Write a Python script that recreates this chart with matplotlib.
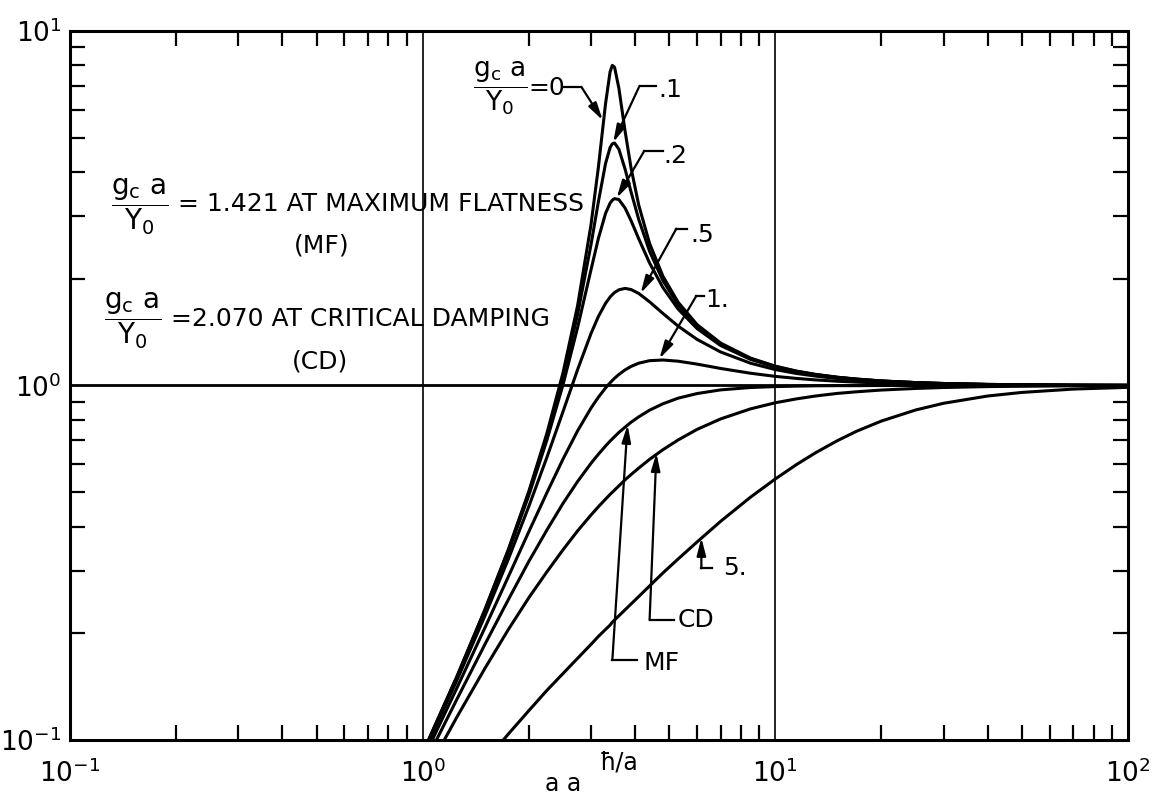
import matplotlib.pyplot as plt

# frequency ratio read along the x axis
x = [1.0, 1.25, 1.5, 1.75, 2.0, 2.25, 2.5, 2.75, 3.0, 3.15, 3.3, 3.4, 3.45, 3.5, 3.6,
     3.75, 3.9, 4.1, 4.4, 4.8, 5.3, 6, 7, 8.5, 10, 11.5, 13, 15, 17, 20, 25, 30, 40, 50, 70, 100]

# response curves, one per damping value gc*a/Y0
g_0 = [0.092, 0.151, 0.233, 0.345, 0.503, 0.733, 1.086, 1.681, 2.832, 4.131, 6.234, 7.678, 8.00, 7.909, 6.900,
       5.212, 4.099, 3.223, 2.516, 2.034, 1.718, 1.485, 1.317, 1.195,
       1.134, 1.098, 1.075, 1.055, 1.043, 1.030, 1.019, 1.013, 1.007, 1.005, 1.002, 1.001]
g_01 = [0.0915, 0.1505, 0.2317, 0.343, 0.498, 0.720, 1.054, 1.586, 2.490, 3.301, 4.228, 4.692, 4.808, 4.831, 4.643,
        4.075, 3.511, 2.938, 2.391, 1.976, 1.689, 1.471, 1.309, 1.191,
        1.131, 1.096, 1.074, 1.055, 1.042, 1.030, 1.019, 1.013, 1.007, 1.005, 1.002, 1.001]
g_02 = [0.0913, 0.1499, 0.2302, 0.339, 0.490, 0.701, 1.005, 1.457, 2.117, 2.601, 3.057, 3.270, 3.333, 3.366, 3.346,
        3.166, 2.915, 2.591, 2.216, 1.889, 1.643, 1.447, 1.296, 1.185,
        1.127, 1.094, 1.072, 1.053, 1.041, 1.029, 1.019, 1.013, 1.007, 1.005, 1.002, 1.001]
g_05 = [0.0904, 0.1472, 0.2235, 0.324, 0.456, 0.627, 0.844, 1.109, 1.400, 1.566, 1.705, 1.776, 1.805, 1.829, 1.862,
        1.879, 1.865, 1.818, 1.722, 1.597, 1.471, 1.349, 1.243, 1.156,
        1.109, 1.081, 1.063, 1.046, 1.036, 1.026, 1.016, 1.011, 1.006, 1.004, 1.002, 1.001]
g_1 = [0.0877, 0.1401, 0.2069, 0.289, 0.387, 0.498, 0.620, 0.745, 0.863, 0.927, 0.984, 1.018, 1.033, 1.048, 1.074,
       1.107, 1.132, 1.156, 1.175, 1.180, 1.171, 1.149, 1.117, 1.083,
       1.061, 1.047, 1.037, 1.028, 1.022, 1.016, 1.010, 1.007, 1.004, 1.003, 1.001, 1.001]
g_mf = [0.0837, 0.1302, 0.1858, 0.249, 0.319, 0.391, 0.465, 0.536, 0.603, 0.640, 0.675, 0.697, 0.707, 0.717, 0.737,
        0.763, 0.788, 0.816, 0.852, 0.888, 0.921, 0.949, 0.972, 0.987,
        0.993, 0.996, 0.998, 0.999, 0.999, 1.0, 1.0, 1.0, 1.0, 1.0, 1.0, 1.0]
g_cd = [0.0775, 0.1160, 0.1590, 0.205, 0.252, 0.298, 0.344, 0.389, 0.431, 0.455, 0.478, 0.493, 0.500, 0.507, 0.521,
        0.542, 0.561, 0.585, 0.619, 0.659, 0.702, 0.752, 0.805, 0.859,
        0.894, 0.917, 0.934, 0.950, 0.960, 0.971, 0.981, 0.987, 0.993, 0.995, 0.998, 0.999]
g_5 = [0.0515, 0.0691, 0.0866, 0.104, 0.121, 0.138, 0.154, 0.170, 0.186, 0.196, 0.205, 0.211, 0.215, 0.218, 0.224,
       0.233, 0.242, 0.254, 0.272, 0.296, 0.324, 0.362, 0.414, 0.484,
       0.545, 0.599, 0.646, 0.699, 0.743, 0.794, 0.853, 0.891, 0.934, 0.956, 0.977, 0.988]

curves = [g_0, g_01, g_02, g_05, g_1, g_mf, g_cd, g_5]

FONT = 'DejaVu Sans'
TS = 18  # annotation text size

fig = plt.figure(figsize=(11.54, 7.99), dpi=100)
ax = fig.add_axes([70 / 1154, 1 - 740 / 799, 1058 / 1154, 709 / 799])

for c in curves:
    ax.plot(x, c, color='black', lw=2.2, solid_capstyle='round')

ax.set_xscale('log')
ax.set_yscale('log')
ax.set_xlim(0.1, 100)
ax.set_ylim(0.1, 10)

ax.axvline(1, color='black', lw=1.2)
ax.axvline(10, color='black', lw=1.2)
ax.axhline(1, color='black', lw=2.0)

for s in ax.spines.values():
    s.set_linewidth(2.2)
ax.tick_params(which='both', direction='in', top=True, right=True, width=1.6, colors='black')
ax.tick_params(which='minor', length=11)
ax.tick_params(which='major', length=0, labelsize=19)
ax.tick_params(axis='x', which='major', pad=14)
ax.tick_params(axis='y', which='major', pad=6)

ARROW = dict(arrowstyle='-|>,head_length=0.7,head_width=0.18',
             mutation_scale=15, color='black', lw=1.6, shrinkA=0, shrinkB=0)


def leader(label, tpos, path, tip):
    ax.text(tpos[0], tpos[1], label, fontsize=TS, family=FONT, ha='center', va='center')
    ax.plot([p[0] for p in path], [p[1] for p in path], color='black', lw=1.6)
    ax.annotate('', xy=tip, xytext=path[-1], arrowprops=ARROW)


frac = r'$\dfrac{\mathrm{g_c\ a}}{\mathrm{Y_0}}$'

# top label for the undamped curve
ax.text(1.66, 6.9, frac, fontsize=19, ha='center', va='center')
ax.text(1.99, 6.9, '=0', fontsize=TS, family=FONT, ha='left', va='center')
ax.plot([2.52, 2.82], [6.95, 6.95], color='black', lw=1.6)
ax.annotate('', xy=(3.24, 5.6), xytext=(2.82, 6.95), arrowprops=ARROW)

leader('.1', (5.05, 6.8), [(4.6, 7.0), (4.12, 7.0)], (3.47, 4.85))
leader('.2', (5.2, 4.45), [(4.79, 4.59), (4.25, 4.59)], (3.55, 3.38))
leader('.5', (6.2, 2.66), [(5.6, 2.77), (5.24, 2.77)], (4.15, 1.82))
leader('1.', (6.85, 1.74), [(6.29, 1.79), (5.97, 1.79)], (4.69, 1.19))
leader('MF', (4.75, 0.165), [(4.04, 0.168), (3.45, 0.168)], (3.81, 0.775))
leader('CD', (5.95, 0.218), [(5.17, 0.218), (4.40, 0.218)], (4.60, 0.645))
leader('5.', (7.7, 0.305), [(6.63, 0.305), (6.17, 0.305)], (6.17, 0.372))

# damping notes on the left
ax.text(0.158, 3.2, frac, fontsize=20, ha='center', va='center')
ax.text(0.203, 3.25, '= 1.421 AT MAXIMUM FLATNESS', fontsize=TS, family=FONT, ha='left', va='center')
ax.text(0.517, 2.48, '(MF)', fontsize=TS, family=FONT, ha='center', va='center')
ax.text(0.151, 1.52, frac, fontsize=20, ha='center', va='center')
ax.text(0.194, 1.54, '=2.070 AT CRITICAL DAMPING', fontsize=TS, family=FONT, ha='left', va='center')
ax.text(0.511, 1.17, '(CD)', fontsize=TS, family=FONT, ha='center', va='center')

# x axis label sitting at the bottom edge
fig.text(545 / 1154, 1 - 772 / 799, 'a a', fontsize=17, family=FONT, ha='left', va='top')
fig.text(600 / 1154, 1 - 762 / 799, 'ħ/a', fontsize=17, family=FONT, ha='left', va='center')

fig.savefig('out.png', dpi=100)
